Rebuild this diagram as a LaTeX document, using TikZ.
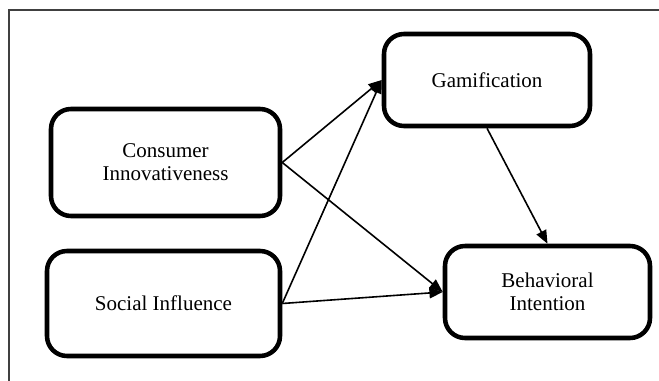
\documentclass[tikz,border=0pt]{standalone}
\usepackage{fontspec}
\setmainfont{Liberation Serif}
\usetikzlibrary{arrows.meta}
\begin{document}
\begin{tikzpicture}[x=0.75pt,y=-0.75pt,
  box/.style={draw=black,line width=3.4pt,rounded corners=15pt,align=center,
    font=\fontsize{15.75}{17.25}\selectfont,inner sep=0pt},
  conn/.style={line width=1.2pt,-{Triangle[length=10pt,width=8pt]}},
  frameline/.style={draw=black!75,line width=1.2pt}]
\useasboundingbox (0,0) rectangle (659,381);
\coordinate (ftop) at (659,10);
\coordinate (fcorner) at (9,10);
\coordinate (fbottom) at (9,381);
\draw[frameline] (ftop) -- (fcorner) -- (fbottom);
\node[box,minimum width=171.75pt,minimum height=80.25pt] (ci) at (165.5,162.5) {Consumer\\Innovativeness};
\node[box,minimum width=174.75pt,minimum height=78.75pt] (si) at (163.5,303.5) {Social Influence};
\node[box,minimum width=154.5pt,minimum height=69pt] (g) at (487,80) {Gamification};
\node[box,minimum width=153.75pt,minimum height=69pt] (bi) at (547.5,292) {Behavioral\\Intention};
\draw[conn] (ci.east) -- (g.west);
\draw[conn] (ci.east) -- (bi.west);
\draw[conn] (si.east) -- (g.west);
\draw[conn] (si.east) -- (bi.west);
\draw[conn] (g.south) -- (bi.north);
\end{tikzpicture}
\end{document}
